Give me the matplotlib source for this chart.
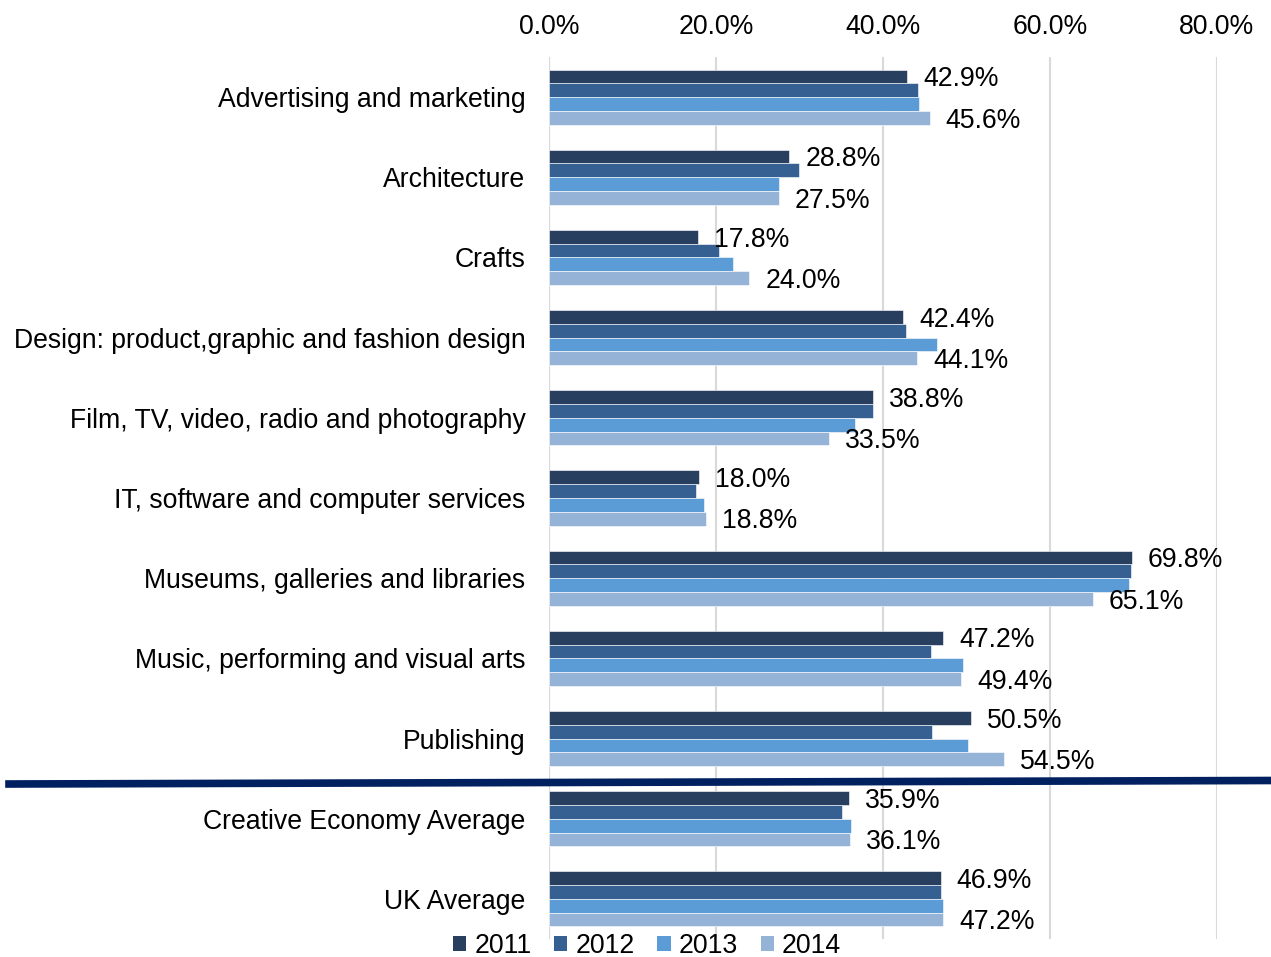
import matplotlib.pyplot as plt
from matplotlib.patches import Patch
from matplotlib.lines import Line2D
import numpy as np

plt.rcParams['font.family'] = ['Liberation Sans', 'DejaVu Sans']

# Data
categories = [
    'Advertising and marketing',
    'Architecture',
    'Crafts',
    'Design: product,graphic and fashion design',
    'Film, TV, video, radio and photography',
    'IT, software and computer services',
    'Museums, galleries and libraries',
    'Music, performing and visual arts',
    'Publishing',
    'Creative Economy Average',
    'UK Average',
]
years = ['2011', '2012', '2013', '2014']
v2011 = [42.9, 28.8, 17.8, 42.4, 38.8, 18.0, 69.8, 47.2, 50.5, 35.9, 46.9]
v2012 = [44.2, 29.9, 20.4, 42.7, 38.8, 17.6, 69.7, 45.8, 45.9, 35.1, 47.0]
v2013 = [44.3, 27.6, 22.0, 46.5, 36.6, 18.6, 69.5, 49.6, 50.2, 36.2, 47.2]
v2014 = [45.6, 27.5, 24.0, 44.1, 33.5, 18.8, 65.1, 49.4, 54.5, 36.1, 47.2]
colors = ['#283F60', '#376092', '#5B9BD6', '#95B3D7']

series = [v2011, v2012, v2013, v2014]
fs = 19.2

fig = plt.figure(figsize=(12.71, 9.57), dpi=100)
ax = fig.add_axes([549 / 1271, 1 - 939 / 957, (1217 - 549) / 1271, (939 - 57) / 957])

y = np.arange(len(categories))
h = 0.172
for k, vals in enumerate(series):
    ax.barh(y + (k - 1.5) * h, vals, height=h, color=colors[k],
            edgecolor='white', linewidth=0.4, zorder=3)

# data labels (2011 and 2014 only)
for i in range(len(categories)):
    ax.annotate(f'{v2011[i]:.1f}%', (v2011[i], y[i] - 1.5 * h), xytext=(11.5, -2),
                textcoords='offset points', ha='left', va='center', fontsize=fs,
                annotation_clip=False)
    ax.annotate(f'{v2014[i]:.1f}%', (v2014[i], y[i] + 1.5 * h), xytext=(11.5, -2),
                textcoords='offset points', ha='left', va='center', fontsize=fs,
                annotation_clip=False)

ax.set_xlim(0, 80)
ax.set_ylim(len(categories) - 0.5, -0.5)
ax.set_xticks([0, 20, 40, 60, 80])
ax.set_xticklabels(['0.0%', '20.0%', '40.0%', '60.0%', '80.0%'], fontsize=fs)
ax.xaxis.tick_top()
ax.set_yticks(y)
ax.set_yticklabels(categories, fontsize=fs)
ax.tick_params(axis='both', length=0)
ax.tick_params(axis='y', pad=17)
ax.tick_params(axis='x', pad=12)
ax.grid(axis='x', color='#D9D9D9', linewidth=1.5, zorder=0)
for s in ax.spines.values():
    s.set_visible(False)
ax.axvline(0, color='#D9D9D9', linewidth=1.5, zorder=1)

# separator line between sectors and averages
fig.add_artist(Line2D([9 / 1271, 1.0], [1 - 784 / 957, 1 - 780.5 / 957],
                      color='#002060', linewidth=5.5))

handles = [Patch(facecolor=c, edgecolor='none') for c in colors]
fig.legend(handles, years, loc='center', bbox_to_anchor=(647 / 1271, 1 - 946 / 957),
           ncol=4, frameon=False, fontsize=fs, handlelength=0.5, handleheight=0.5,
           handletextpad=0.3, columnspacing=0.85, borderpad=0)

fig.savefig('out.png', dpi=100, facecolor='white')
